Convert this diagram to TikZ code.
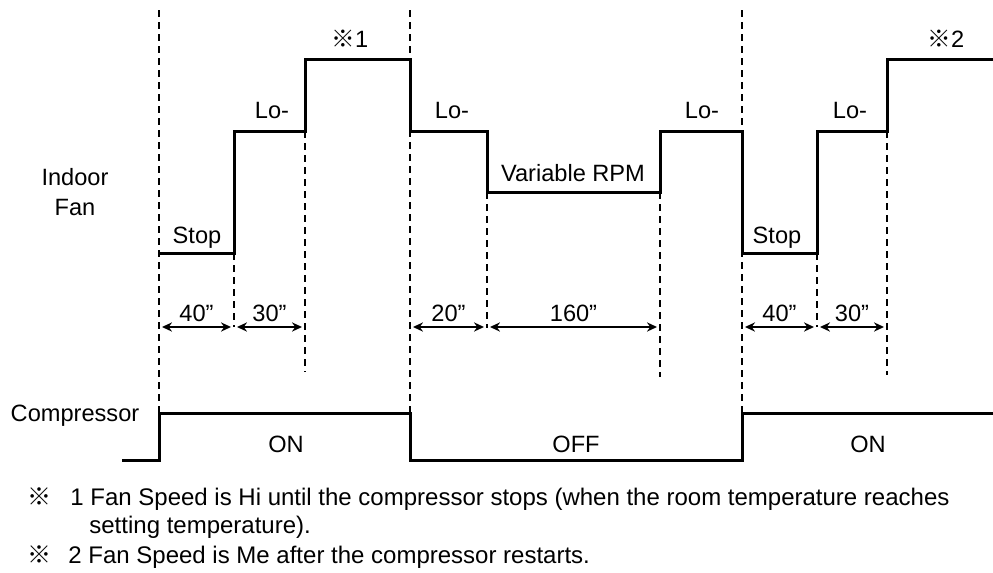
\documentclass[tikz,border=0pt]{standalone}
\usepackage{fontspec}
\setmainfont{Liberation Sans}
\newfontfamily\markfont{Noto Sans CJK JP}
\usetikzlibrary{arrows.meta, positioning}
\newcommand{\refmark}{{\markfont ※}}

\begin{document}
\begin{tikzpicture}[
  x=0.5pt, y=-0.5pt,
  every node/.style={font=\fontsize{11.8}{14}\selectfont, inner sep=0pt, anchor=base},
  wave/.style={line width=1.5pt, line join=miter},
  guide/.style={line width=0.9pt, dash pattern=on 3.5pt off 2.5pt},
  span/.style={line width=0.9pt, {Stealth[length=5pt,width=4.6pt]}-{Stealth[length=5pt,width=4.6pt]}},
  note/.style={anchor=base west, font=\fontsize{12}{14}\selectfont}
]
\useasboundingbox (0,0) rectangle (993,573);

% guide lines
\draw[guide] (159,10) -- (159,413);
\draw[guide] (234,253) -- (234,327);
\draw[guide] (305,131) -- (305,372);
\draw[guide] (410,10) -- (410,413);
\draw[guide] (487,192) -- (487,328);
\draw[guide] (660,192) -- (660,377);
\draw[guide] (742,10) -- (742,413);
\draw[guide] (817,253) -- (817,327);
\draw[guide] (887,131) -- (887,375);

% indoor fan
\draw[wave] (159,253) -- (234,253) -- (234,131) -- (305,131) -- (305,59) -- (410,59)
  -- (410,131) -- (487,131) -- (487,192) -- (660,192) -- (660,131) -- (742,131)
  -- (742,253) -- (817,253) -- (817,131) -- (887,131) -- (887,59) -- (993,59);

% compressor
\draw[wave] (122,460) -- (159,460) -- (159,413) -- (410,413) -- (410,460)
  -- (742,460) -- (742,413) -- (993,413);

% durations
\foreach \k/\l/\r/\t in {1/159/234/40, 2/234/305/30, 3/410/487/20, 4/487/660/160, 5/742/817/40, 6/817/887/30} {
  \coordinate (L\k) at (\l+3,327);
  \coordinate (R\k) at (\r-3,327);
  \draw[span] (L\k) -- (R\k) node[midway, above=3pt, anchor=base] (T\k) {\t”};
}

% levels
\node (stopA) at (197,243) {Stop};
\node (loA) at (272,119) {Lo-};
\node (hiA) at (350,47) {\refmark1};
\node (loB) at (452,119) {Lo-};
\node (varB) at (573,181) {Variable RPM};
\node (loC) at (702,119) {Lo-};
\node (stopD) at (777,243) {Stop};
\node (loD) at (850,119) {Lo-};
\node (hiD) at (946,47) {\refmark2};

% row labels
\node (fanA) at (75,185) {Indoor};
\node (fanB) at (75,215) {Fan};
\node (comp) at (75,421) {Compressor};
\node (onA) at (286,452) {ON};
\node (offB) at (576,452) {OFF};
\node (onC) at (868,452) {ON};

% notes
\node[note] (markA) at (27,505) {\refmark};
\node[note] (noteA) at (70,505) {1 Fan Speed is Hi until the compressor stops (when the room temperature reaches};
\node[note] (noteAb) at (89,533) {setting temperature).};
\node[note] (markB) at (27,563) {\refmark};
\node[note] (noteB) at (68,563) {2 Fan Speed is Me after the compressor restarts.};
\end{tikzpicture}
\end{document}
